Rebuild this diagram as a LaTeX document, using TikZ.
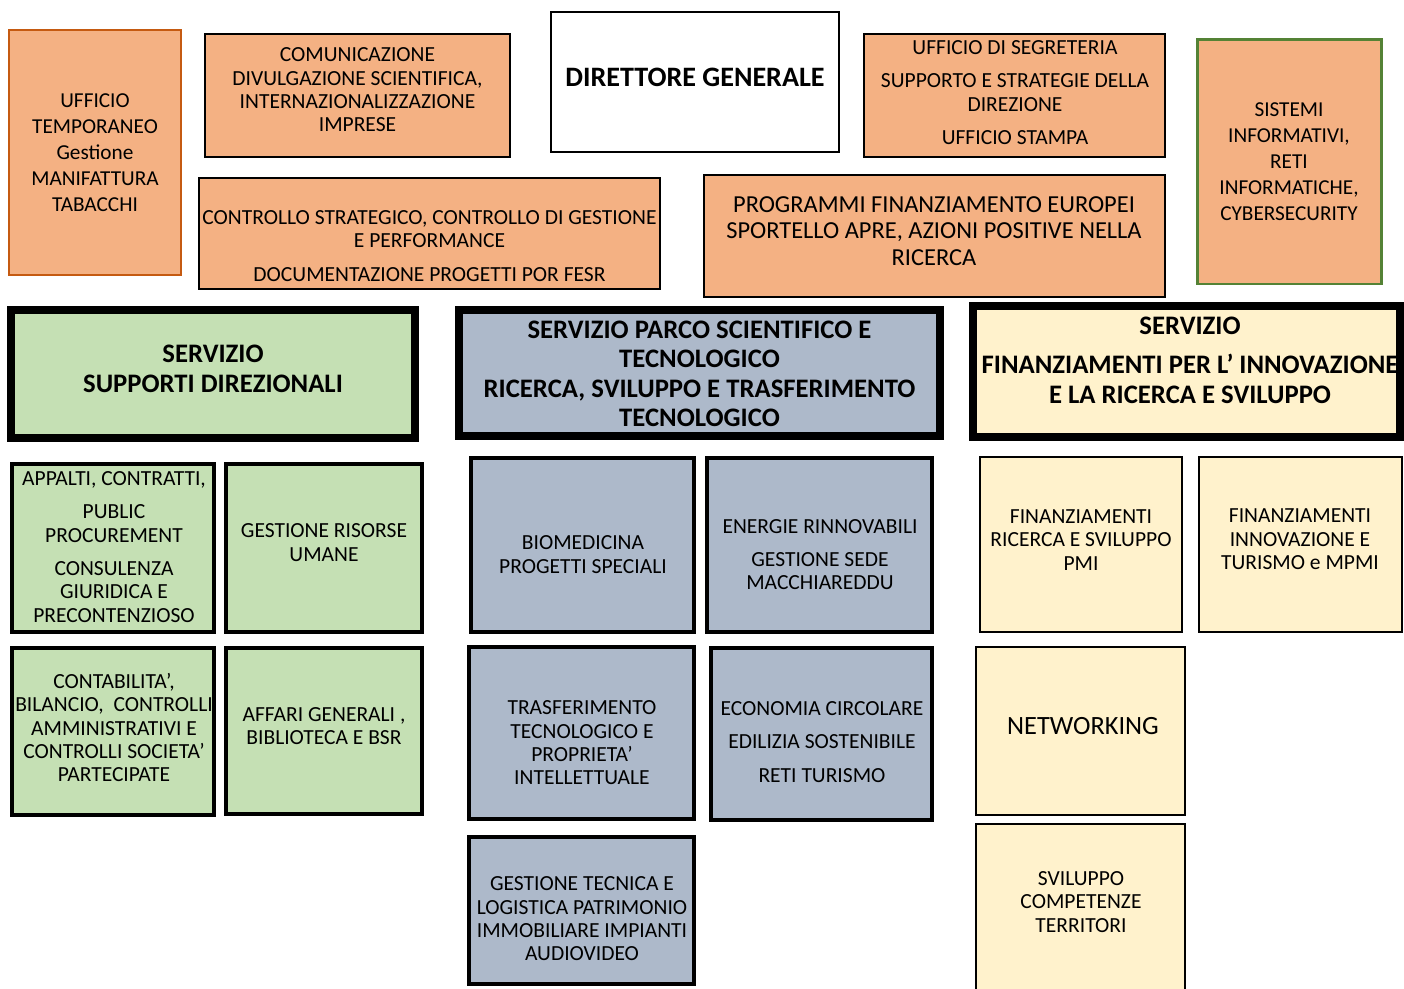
\documentclass[tikz,border=0pt]{standalone}
\usepackage{fontspec}
\setmainfont{Carlito}
\usepackage{tikz}
\usetikzlibrary{positioning}

\definecolor{uffOrange}{HTML}{F4B183}
\definecolor{uffBrown}{HTML}{C55A11}
\definecolor{sisGreen}{HTML}{548235}
\definecolor{supGreen}{HTML}{C5E0B4}
\definecolor{parcoBlue}{HTML}{ADB9CA}
\definecolor{finYellow}{HTML}{FFF2CC}

\tikzset{
  ufficio/.style={draw=black, fill=uffOrange, line width=1.5pt},
  servizio/.style={draw=black, line width=4pt},
  sezione/.style={draw=black, line width=2.3pt},
  sezioneFin/.style={draw=black, fill=finYellow, line width=1.4pt},
  txt/.style={align=center, inner sep=0pt, font=\fontsize{12.25}{13.3}\selectfont},
  txtwide/.style={align=center, inner sep=0pt, font=\fontsize{12.1}{14.8}\selectfont},
  head/.style={align=center, inner sep=0pt, font=\fontsize{15.2}{16.8}\selectfont\bfseries}
}

\begin{document}
\begin{tikzpicture}[x=0.02cm, y=-0.02cm]
    \clip (0,0) rectangle (1404,989);
    \fill[white] (0,0) rectangle (1404,989);

    % uffici di staff
    \draw[ufficio, draw=uffBrown] (9,30) rectangle (181,275);
    \node[txtwide] (uffTemp) at (95,153) {UFFICIO\\TEMPORANEO\\Gestione\\MANIFATTURA\\TABACCHI};
    \draw[ufficio] (205,34) rectangle (510,157);
    \node[txt] (comunicazione) at (357.5,90) {COMUNICAZIONE\\DIVULGAZIONE SCIENTIFICA,\\INTERNAZIONALIZZAZIONE\\IMPRESE};
    \draw[ufficio, fill=white] (551,12) rectangle (839,152);
    \node[head, font=\fontsize{16}{18}\selectfont\bfseries] (direttore) at (695,77) {DIRETTORE GENERALE};
    \draw[ufficio] (864,34) rectangle (1165,157);
    \node[txt] (segreteria) at (1015,92.5) {UFFICIO DI SEGRETERIA\\[0.2cm]SUPPORTO E STRATEGIE DELLA\\DIREZIONE\\[0.2cm]UFFICIO STAMPA};
    \draw[ufficio, draw=sisGreen, line width=1.7pt] (1197,40) rectangle (1381,284);
    \node[txtwide] (sistemi) at (1289,162) {SISTEMI\\INFORMATIVI,\\RETI\\INFORMATICHE,\\CYBERSECURITY};
    \draw[ufficio] (199,178) rectangle (660,289);
    \node[txt] (controllo) at (429.5,246) {CONTROLLO STRATEGICO, CONTROLLO DI GESTIONE\\E PERFORMANCE\\[0.2cm]DOCUMENTAZIONE PROGETTI POR FESR};
    \draw[ufficio, line width=1.6pt] (704,175) rectangle (1165,297);
    \node[txt, font=\fontsize{13.9}{15}\selectfont] (programmi) at (934,231) {PROGRAMMI FINANZIAMENTO EUROPEI\\SPORTELLO APRE, AZIONI POSITIVE NELLA\\RICERCA};

    % servizi
    \draw[servizio, fill=supGreen] (11,310) rectangle (415,438);
    \node[head] (supporti) at (213,369) {SERVIZIO\\SUPPORTI DIREZIONALI};
    \draw[servizio, fill=parcoBlue] (459,310) rectangle (940,436);
    \node[head] (parco) at (699.5,374) {SERVIZIO PARCO SCIENTIFICO E\\TECNOLOGICO\\RICERCA, SVILUPPO E TRASFERIMENTO\\TECNOLOGICO};
    \draw[servizio, fill=finYellow] (973,306) rectangle (1400,437);
    \node[head] (finanziamenti) at (1190,360) {SERVIZIO\\[0.2cm]FINANZIAMENTI PER L’ INNOVAZIONE\\E LA RICERCA E SVILUPPO};

    % supporti direzionali
    \draw[sezione, fill=supGreen] (12,464) rectangle (214,632);
    \node[txt] (appalti) at (114,547) {APPALTI, CONTRATTI,\\[0.2cm]PUBLIC\\PROCUREMENT\\[0.2cm]CONSULENZA\\GIURIDICA E\\PRECONTENZIOSO};
    \draw[sezione, fill=supGreen] (226,464) rectangle (422,632);
    \node[txt] (risorse) at (324,542.5) {GESTIONE RISORSE\\UMANE};
    \draw[sezione, fill=supGreen] (12,648) rectangle (214,815);
    \node[txt] (contabilita) at (114,727.5) {CONTABILITA’,\\BILANCIO,\ \ CONTROLLI\\AMMINISTRATIVI E\\CONTROLLI SOCIETA’\\PARTECIPATE};
    \draw[sezione, fill=supGreen] (226,648) rectangle (422,814);
    \node[txt] (affari) at (324,726) {AFFARI GENERALI ,\\BIBLIOTECA E BSR};

    % parco scientifico e tecnologico
    \draw[sezione, fill=parcoBlue] (471,458) rectangle (694,632);
    \node[txt] (biomedicina) at (583,554.5) {BIOMEDICINA\\PROGETTI SPECIALI};
    \draw[sezione, fill=parcoBlue] (707,458) rectangle (932,632);
    \node[txt] (energie) at (820,554.5) {ENERGIE RINNOVABILI\\[0.2cm]GESTIONE SEDE\\MACCHIAREDDU};
    \draw[sezione, fill=parcoBlue] (469,647) rectangle (694,819);
    \node[txt] (trasferimento) at (582,743) {TRASFERIMENTO\\TECNOLOGICO E\\PROPRIETA’\\INTELLETTUALE};
    \draw[sezione, fill=parcoBlue] (711,648) rectangle (932,820);
    \node[txt] (economia) at (822,742) {ECONOMIA CIRCOLARE\\[0.2cm]EDILIZIA SOSTENIBILE\\[0.2cm]RETI TURISMO};
    \draw[sezione, fill=parcoBlue] (469,837) rectangle (694,984);
    \node[txt] (gestTecnica) at (582,919) {GESTIONE TECNICA E\\LOGISTICA PATRIMONIO\\IMMOBILIARE IMPIANTI\\AUDIOVIDEO};

    % finanziamenti
    \draw[sezioneFin] (980,457) rectangle (1182,632);
    \node[txt] (finRicerca) at (1081,540) {FINANZIAMENTI\\RICERCA E SVILUPPO\\PMI};
    \draw[sezioneFin] (1199,457) rectangle (1402,632);
    \node[txt] (finInnov) at (1300,539.5) {FINANZIAMENTI\\INNOVAZIONE E\\TURISMO e MPMI};
    \draw[sezioneFin, line width=1.3pt] (976,647) rectangle (1185,815);
    \node[txt, font=\fontsize{15}{16}\selectfont] (networking) at (1083,726) {NETWORKING};
    \draw[sezioneFin, line width=1.3pt] (976,824) rectangle (1185,1000);
    \node[txt] (sviluppo) at (1081,902) {SVILUPPO\\COMPETENZE\\TERRITORI};
\end{tikzpicture}
\end{document}
